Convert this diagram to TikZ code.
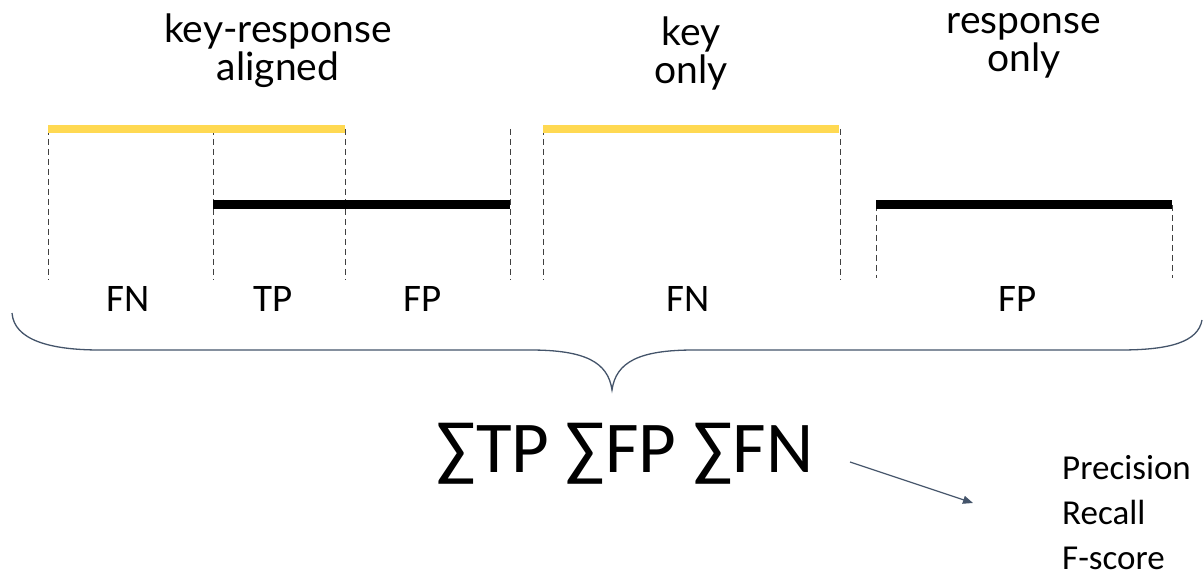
\documentclass[tikz,border=0pt]{standalone}
\usepackage{fontspec}
\setmainfont{Carlito}
\newfontfamily\latofont{Lato}
\usetikzlibrary{arrows.meta}
\definecolor{keyyellow}{RGB}{255,217,82}
\definecolor{slate}{RGB}{68,84,106}
\begin{document}
\begin{tikzpicture}[x=1pt,y=-1pt,
  keybar/.style={line width=8pt, keyyellow},
  respbar/.style={line width=9pt, black},
  guide/.style={dash pattern=on 6pt off 4pt, line width=0.7pt, black!75},
  header/.style={font=\latofont\fontsize{39}{38}\selectfont, align=center, inner sep=0pt},
  cat/.style={font=\fontsize{39}{40}\selectfont, inner sep=0pt},
  brace/.style={slate, line width=1.3pt},
  conn/.style={slate, line width=1.2pt, -{Triangle[length=10pt,width=8pt]}},
  sums/.style={font=\fontsize{73}{75}\selectfont, inner sep=0pt},
  metrics/.style={font=\fontsize{35}{45}\selectfont, align=left, inner sep=0pt}
]
\useasboundingbox (0,0) rectangle (1204,577);
% headers
\node[header] (h1) at (278,51) {key-response\\aligned};
\node[header] (h2) at (691,53) {key\\only};
\node[header] (h3) at (1024,46) {response\\only};
% guides
\draw[guide] (48,129) -- (48,280);
\draw[guide] (213,129) -- (213,280);
\draw[guide] (345,129) -- (345,280);
\draw[guide] (510,129) -- (510,280);
\draw[guide] (543,129) -- (543,280);
\draw[guide] (840,129) -- (840,280);
\draw[guide] (876,205) -- (876,278);
\draw[guide] (1172,205) -- (1172,278);
% bars
\draw[keybar] (48,129) -- (345,129);
\draw[respbar] (213,205) -- (510,205);
\draw[keybar] (543,129) -- (839,129);
\draw[respbar] (876,205) -- (1172,205);
% categories
\node[cat] (c1) at (128,299) {FN};
\node[cat] (c2) at (273,299) {TP};
\node[cat] (c3) at (423,299) {FP};
\node[cat] (c4) at (688,299) {FN};
\node[cat] (c5) at (1018,299) {FP};
% brace
\draw[brace] (12,313) .. controls (14,340) and (50,350) .. (100,350) -- (530,350)
  .. controls (585,350) and (608,362) .. (612,390)
  .. controls (616,362) and (639,350) .. (694,350) -- (1120,350)
  .. controls (1170,350) and (1198,342) .. (1202,320);
% sums
\node[sums] (s) at (625,454) {∑TP ∑FP ∑FN};
\coordinate (aS) at (850,462);
\coordinate (aE) at (973,503);
\draw[conn] (aS) -- (aE);
\node[metrics, anchor=west] (m) at (1062,513) {Precision\\Recall\\F-score};
\end{tikzpicture}
\end{document}
